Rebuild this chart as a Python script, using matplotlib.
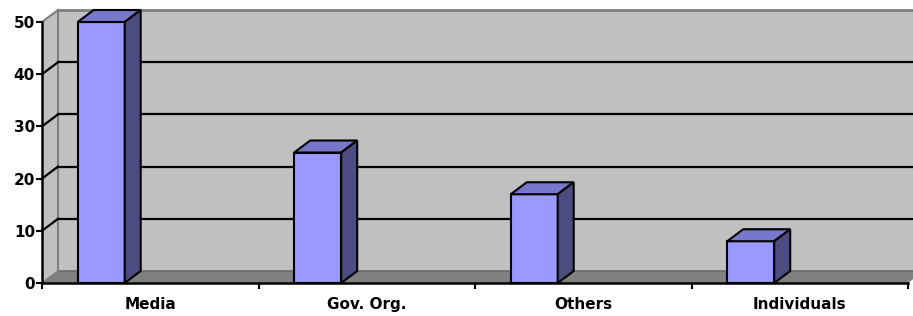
import matplotlib.pyplot as plt
from matplotlib.patches import Polygon

# data
categories = ["Media", "Gov. Org.", "Others", "Individuals"]
values = [50, 25, 17, 8]
y_ticks = [0, 10, 20, 30, 40, 50]

plt.rcParams['font.family'] = ['DejaVu Sans']

fig = plt.figure(figsize=(9.13, 3.16), dpi=100)
ax = fig.add_axes([42 / 913, 33 / 316, 866 / 913, 261 / 316])
ax.set_xlim(0, 4)
ax.set_ylim(0, 50)
ax.set_facecolor('none')

# depth offset of the 3d box in data units
DX = 16 / 866 * 4
DY = 12 / (261 / 50)
ymax = 50
n = len(categories)

wall = '#c0c0c0'
edge = '#7f7f7f'

# back wall
ax.add_patch(Polygon([(DX, DY), (n + DX, DY), (n + DX, ymax + DY), (DX, ymax + DY)],
                     closed=True, fc=wall, ec='none', zorder=0, clip_on=False))
ax.plot([DX, n + DX], [ymax + DY, ymax + DY], color=edge, lw=2, zorder=1, clip_on=False)
ax.plot([DX, DX], [DY, ymax + DY], color=edge, lw=1.5, zorder=1, clip_on=False)

# side wall
ax.add_patch(Polygon([(0, 0), (DX, DY), (DX, ymax + DY), (0, ymax)],
                     closed=True, fc=wall, ec='none', zorder=0, clip_on=False))
ax.plot([0, DX], [ymax, ymax + DY], color=edge, lw=1.5, zorder=1, clip_on=False)

# gridlines on back and side walls
for v in y_ticks[1:-1]:
    ax.plot([DX, n + DX], [v + DY, v + DY], color='black', lw=1.6, zorder=1, clip_on=False)
    ax.plot([0, DX], [v, v + DY], color='black', lw=1.6, zorder=1, clip_on=False)

# floor
ax.add_patch(Polygon([(0, 0), (n, 0), (n + DX, DY), (DX, DY)],
                     closed=True, fc='#808080', ec='none', zorder=1, clip_on=False))
ax.plot([DX, n + DX], [DY, DY], color='#6a6a6a', lw=1.2, zorder=1, clip_on=False)
ax.plot([0, DX], [0, DY], color=edge, lw=1.2, zorder=1, clip_on=False)

# bars
x0 = [i + 0.165 for i in range(n)]
w = 0.217
ax.bar(x0, values, width=w, align='edge', color='#9999ff', edgecolor='black',
       linewidth=1.5, zorder=3, clip_on=False)
for x, v in zip(x0, values):
    top = [(x, v), (x + DX, v + DY), (x + w + DX, v + DY), (x + w, v)]
    side = [(x + w, 0), (x + w + DX, DY), (x + w + DX, v + DY), (x + w, v)]
    ax.add_patch(Polygon(top, closed=True, fc='#7777cc', ec='black', lw=1.5,
                         zorder=3, clip_on=False, joinstyle='miter'))
    ax.add_patch(Polygon(side, closed=True, fc='#4c4c80', ec='black', lw=1.5,
                         zorder=3, clip_on=False, joinstyle='miter'))

# axes
for s in ['top', 'right']:
    ax.spines[s].set_visible(False)
for s in ['left', 'bottom']:
    ax.spines[s].set_color('black')
    ax.spines[s].set_linewidth(1.8)
    ax.spines[s].set_zorder(5)

ax.set_yticks(y_ticks)
ax.set_yticklabels([str(v) for v in y_ticks], fontsize=11, fontweight='bold')
ax.tick_params(axis='y', length=4, width=1.5, pad=1)

ax.set_xticks([i + 0.5 for i in range(n)])
ax.set_xticklabels(categories, fontsize=11, fontweight='bold')
ax.set_xticks(range(n + 1), minor=True)
ax.tick_params(axis='x', which='major', length=0, pad=10)
ax.tick_params(axis='x', which='minor', length=4, width=1.5)

fig.savefig('out.png', dpi=100)
